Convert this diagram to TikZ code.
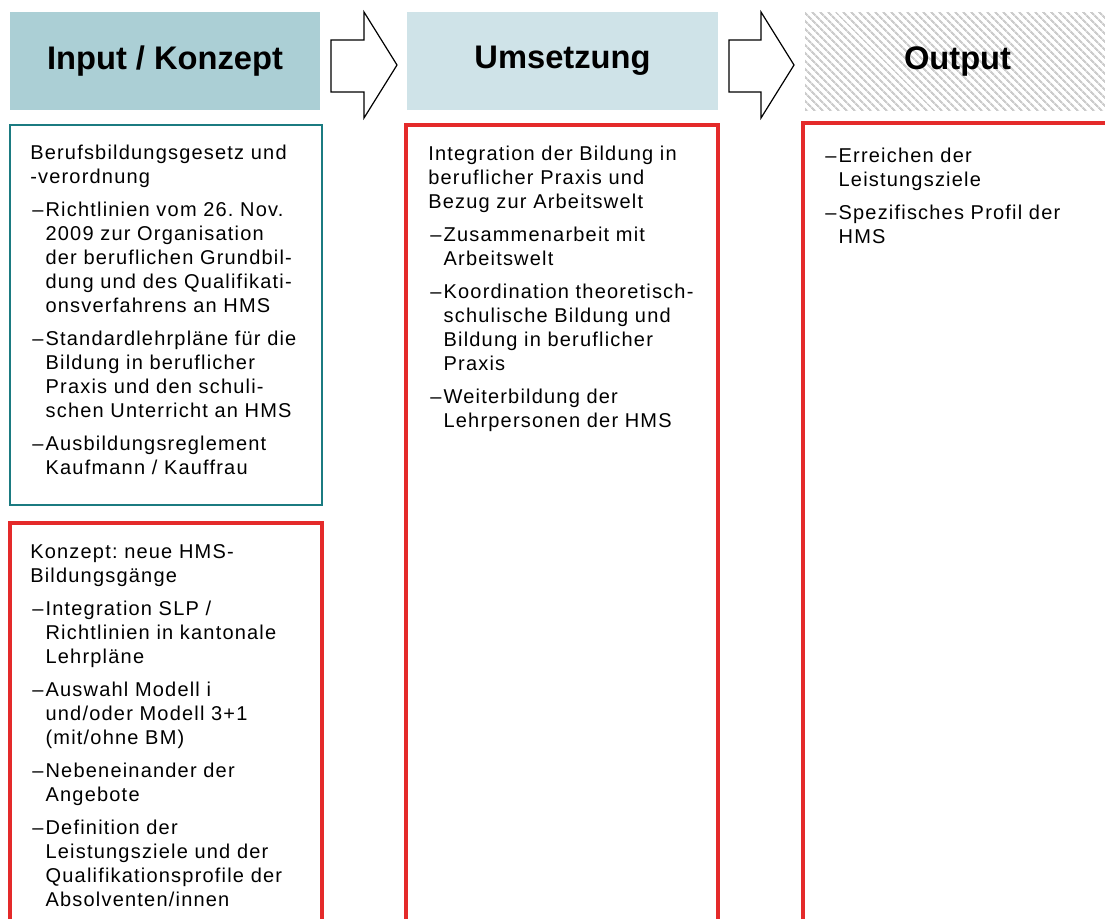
\documentclass[tikz,border=0pt]{standalone}
\usepackage{fontspec}
\setmainfont{Liberation Sans}
\newfontfamily\fliesstext[LetterSpace=6]{Liberation Sans}
\usetikzlibrary{patterns.meta}

\definecolor{konzeptblau}{HTML}{ABCFD5}
\definecolor{umsetzblau}{HTML}{CFE3E8}
\definecolor{tealrand}{HTML}{1B7B81}
\definecolor{hmsrot}{HTML}{E42A2A}

\tikzset{
  kopf/.style={inner sep=0pt, minimum height=73.5pt, font=\fontsize{24.5}{29}\selectfont\bfseries},
  textblock/.style={anchor=base west, inner sep=0pt, text width=225pt, align=left,
    font=\fliesstext\fontsize{15}{18}\selectfont\frenchspacing},
  pfeil/.style={draw=black, line width=0.9pt, fill=white, line join=miter},
  rahmenteal/.style={draw=tealrand, line width=2.2pt},
  rahmenrot/.style={draw=hmsrot, line width=3pt},
}
\newcommand\erstpunkt[1]{\hangindent=11.5pt\hangafter=1\noindent\makebox[11.5pt][l]{\hspace{1.5pt}–}#1\par}
\newcommand\punkt[1]{\par\vspace{6.75pt}\erstpunkt{#1}}
\newcommand\nl{\newline}

\begin{document}
\begin{tikzpicture}[x=0.75pt,y=-0.75pt]
  \useasboundingbox (0,0) rectangle (1105,918);
  \clip (0,0) rectangle (1105,918);

  %Kopfzeile
  \node[kopf, fill=konzeptblau, minimum width=232.5pt] (input) at (165,61) {Input / Konzept};
  \node[kopf, fill=umsetzblau, minimum width=233.25pt] (umsetzung) at (562.5,61) {Umsetzung};
  \node[kopf, minimum width=228.75pt,
        pattern={Lines[angle=-45, distance=4pt, line width=1.7pt]}, pattern color=gray!40]
        (output) at (957.5,61) {Output};

  %Pfeile
  \draw[pfeil] (331,40) -- (364,40) -- (364,12) -- (397,65) -- (364,118) -- (364,92) -- (331,92) -- cycle;
  \draw[pfeil] (729,40) -- (761,40) -- (761,12) -- (794,65) -- (761,118) -- (761,92) -- (729,92) -- cycle;

  %Rahmen
  \draw[rahmenteal] (10,125) rectangle (322,505);
  \draw[rahmenrot] (10,523) rectangle (322,940);
  \draw[rahmenrot] (406,125) rectangle (718,940);
  \draw[rahmenrot] (803,123) rectangle (1120,940);

  %Texte
  \node[textblock] (gesetz) at (30,159) {%
    Berufsbildungsgesetz und\nl-verordnung
    \punkt{Richtlinien vom 26. Nov.\nl2009 zur Organisation\nl der beruflichen Grundbil-\nl dung und des Qualifikati-\nl onsverfahrens an HMS}
    \punkt{Standardlehrpläne für die\nl Bildung in beruflicher\nl Praxis und den schuli-\nl schen Unterricht an HMS}
    \punkt{Ausbildungsreglement\nl Kaufmann / Kauffrau}};

  \node[textblock] (konzept) at (30,558) {%
    Konzept: neue HMS-\nl Bildungsgänge
    \punkt{Integration SLP /\nl Richtlinien in kantonale\nl Lehrpläne}
    \punkt{Auswahl Modell i\nl und/oder Modell 3+1\nl (mit/ohne BM)}
    \punkt{Nebeneinander der\nl Angebote}
    \punkt{Definition der\nl Leistungsziele und der\nl Qualifikationsprofile der\nl Absolventen/innen}};

  \node[textblock] (praxis) at (428,160) {%
    Integration der Bildung in\nl beruflicher Praxis und\nl Bezug zur Arbeitswelt
    \punkt{Zusammenarbeit mit\nl Arbeitswelt}
    \punkt{Koordination theoretisch-\nl schulische Bildung und\nl Bildung in beruflicher\nl Praxis}
    \punkt{Weiterbildung der\nl Lehrpersonen der HMS}};

  \node[textblock] (ziele) at (823,162) {%
    \erstpunkt{Erreichen der\nl Leistungsziele}
    \punkt{Spezifisches Profil der\nl HMS}};
\end{tikzpicture}
\end{document}
